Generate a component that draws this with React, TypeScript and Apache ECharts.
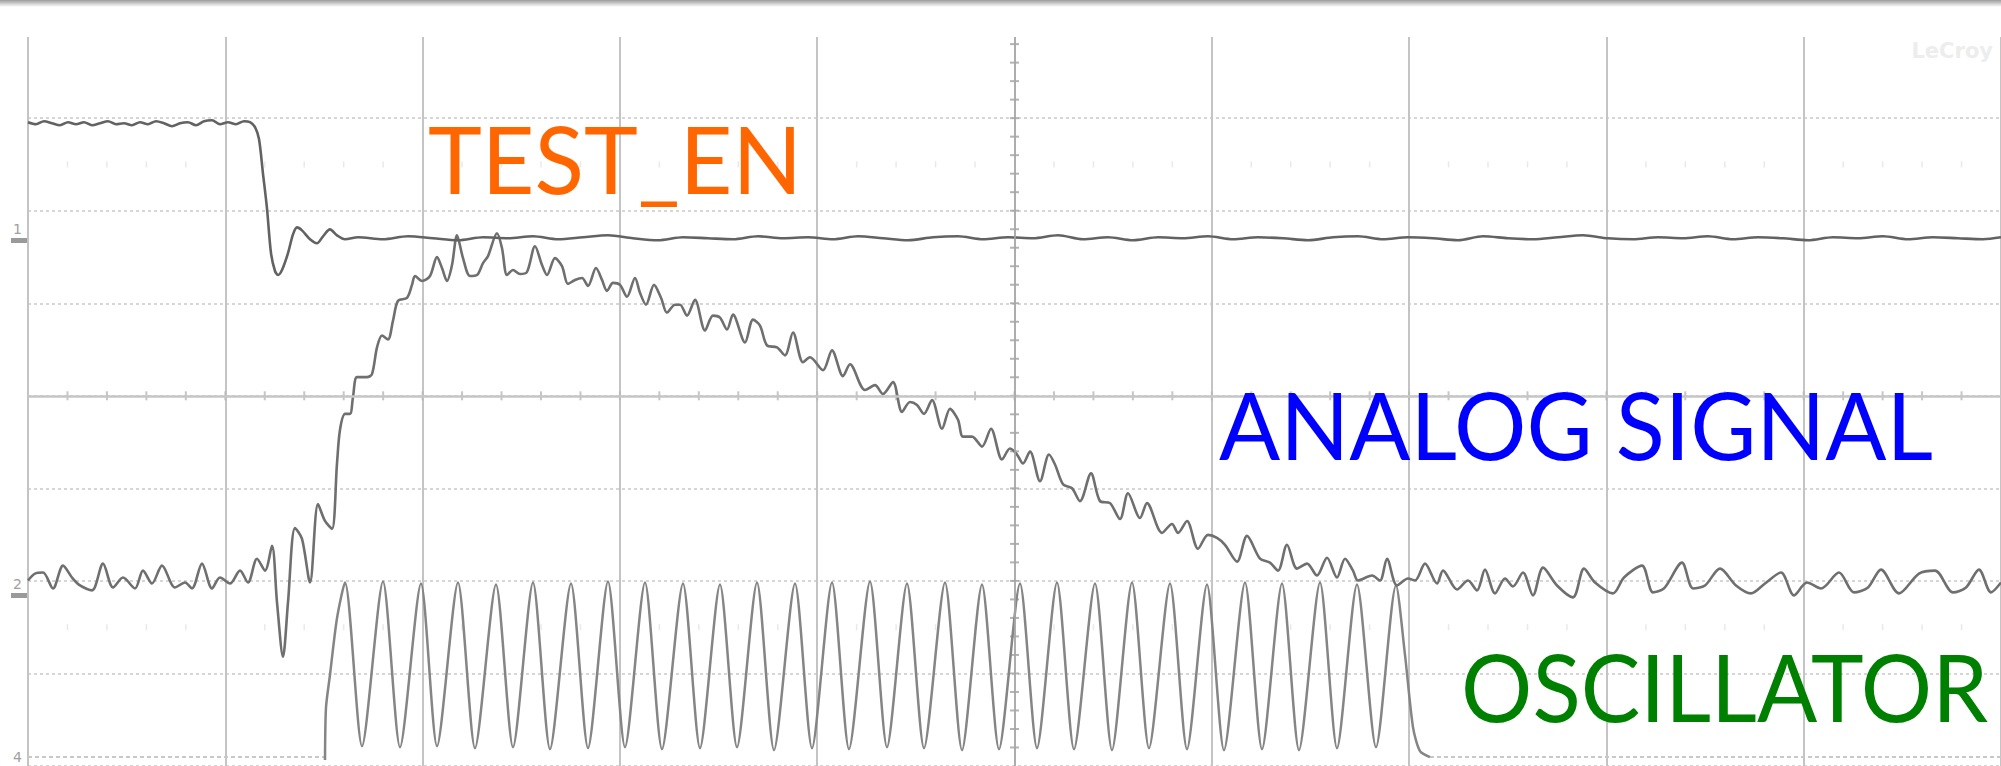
import React, { useEffect, useRef } from "react";
import * as echarts from "echarts";

// Oscilloscope screen: 10 horizontal divisions x 8 vertical divisions.
// x = sample index (197.3 samples / div), y = ADC counts (93.3 counts / div)
const X_DIVS = 10;
const SAMPLES_PER_DIV = 197.3;
const Y_DIVS = 8;
const COUNTS_PER_DIV = 93.3;

const TEST_EN: [number, number][] = [
  [0, 649], [8, 647], [16, 650], [24, 648], [32, 646], [40, 649], [48, 647], [56, 649], [64, 646], [72, 648],
  [80, 650], [88, 647], [96, 648], [104, 646], [112, 649], [120, 647], [128, 650], [136, 648], [144, 645], [152, 648],
  [160, 649], [168, 646], [176, 650], [184, 651], [192, 647], [200, 649], [208, 647], [216, 650], [222, 649], [227, 644],
  [231, 632], [235, 597], [239, 562], [243, 517], [247, 499], [250, 495], [254, 500], [260, 517], [265, 536], [269, 543],
  [274, 540], [282, 531], [289, 527], [295, 534], [302, 541], [309, 535], [317, 531],
  [330, 533], [355, 531], [380, 534], [405, 532], [430, 530], [455, 533], [480, 532], [505, 534], [530, 531], [555, 533],
  [580, 535], [605, 532], [630, 530], [655, 533], [680, 532], [705, 531], [730, 534], [755, 532], [780, 533], [805, 531],
  [830, 534], [855, 532], [880, 530], [905, 533], [930, 534], [955, 531], [980, 533], [1005, 532], [1030, 535], [1055, 531],
  [1080, 533], [1105, 530], [1130, 533], [1155, 532], [1180, 534], [1205, 531], [1230, 533], [1255, 532], [1280, 530], [1305, 533],
  [1330, 534], [1355, 531], [1380, 533], [1405, 532], [1430, 530], [1455, 534], [1480, 532], [1505, 531], [1530, 533], [1555, 535],
  [1580, 532], [1605, 531], [1630, 533], [1655, 532], [1680, 534], [1705, 531], [1730, 533], [1755, 532], [1780, 530], [1805, 533],
  [1830, 532], [1855, 534], [1880, 531], [1905, 533], [1930, 532], [1955, 531], [1973, 533],
];

const ANALOG: [number, number][] = [
  [0, 187], [7, 194], [15, 195], [25, 179], [35, 202], [44, 190], [52, 182], [64, 177], [75, 204], [85, 180],
  [95, 190], [107, 179], [115, 197], [124, 184], [134, 202], [147, 180], [157, 185], [164, 179], [174, 204], [184, 179],
  [192, 190], [202, 184], [212, 197], [220, 185], [229, 209], [237, 197], [244, 222], [249, 165], [255, 110], [260, 165],
  [267, 240], [274, 229], [282, 185], [290, 264], [297, 247], [304, 239], [309, 305], [312, 339], [317, 355], [322, 355],
  [325, 372], [329, 392], [339, 392], [344, 395], [349, 422], [354, 434], [360, 430], [365, 449], [370, 469], [379, 472],
  [384, 485], [387, 494], [394, 489], [402, 494], [409, 513], [414, 502], [419, 489], [424, 505], [429, 535], [435, 512],
  [442, 494], [449, 495], [455, 507], [460, 514], [469, 537], [474, 522], [479, 495], [485, 500], [492, 496], [499, 498],
  [507, 524], [514, 505], [519, 495], [527, 512], [534, 504], [540, 486], [547, 490], [554, 492], [560, 484], [568, 502],
  [574, 490], [579, 479], [585, 487], [592, 485], [599, 473], [607, 492], [612, 477], [618, 465], [626, 485], [633, 472],
  [639, 457], [647, 465], [652, 465], [659, 454], [667, 470], [677, 439], [685, 454], [692, 452], [699, 440], [705, 455],
  [717, 427], [725, 450], [732, 444], [739, 424], [749, 422], [757, 414], [765, 437], [775, 407], [782, 412], [795, 399],
  [804, 419], [815, 393], [822, 405], [837, 379], [847, 384], [855, 375], [865, 387], [874, 357], [882, 367], [889, 364],
  [896, 355], [904, 369], [914, 340], [922, 360], [930, 349], [935, 332], [944, 332], [954, 322], [963, 340], [974, 309],
  [982, 320], [989, 314], [995, 305], [1002, 317], [1012, 287], [1021, 314], [1027, 304], [1035, 284], [1044, 280], [1052, 267],
  [1063, 295], [1072, 267], [1082, 265], [1092, 249], [1100, 275], [1112, 250], [1119, 265], [1134, 235], [1144, 244], [1150, 235],
  [1159, 247], [1170, 219], [1180, 233], [1189, 230], [1197, 223], [1209, 206], [1219, 232], [1232, 209], [1242, 205], [1250, 197],
  [1259, 223], [1269, 199], [1279, 204], [1289, 192], [1299, 210], [1309, 190], [1317, 209], [1325, 197], [1330, 187], [1344, 192],
  [1352, 187], [1359, 209], [1369, 182], [1380, 189], [1387, 187], [1397, 204], [1409, 184], [1415, 197], [1429, 178], [1440, 187],
  [1449, 177], [1457, 198], [1467, 174], [1477, 189], [1485, 181], [1495, 195], [1505, 172], [1515, 200], [1529, 182], [1545, 170],
  [1556, 199], [1567, 185], [1585, 174], [1596, 190], [1614, 202], [1625, 175], [1636, 179], [1654, 205], [1665, 179], [1677, 182],
  [1692, 199], [1708, 182], [1723, 174], [1737, 184], [1753, 195], [1766, 172], [1779, 185], [1793, 179], [1811, 195], [1826, 175],
  [1840, 180], [1853, 198], [1871, 174], [1891, 194], [1907, 197], [1925, 175], [1938, 180], [1951, 198], [1963, 175], [1973, 185],
];

const OSC_START: [number, number][] = [[297, 6], [298, 59], [302, 92], [309, 149]];
const OSC_PEAK_X = [317, 355, 393, 430, 468, 505, 543, 580, 617, 655, 692, 729, 767, 804, 842, 879, 917, 954, 992, 1029, 1067, 1104, 1142, 1179, 1217, 1254, 1292, 1329, 1368];
const OSC_PEAK_Y = [185, 186, 184, 185, 183, 185, 184, 186, 185, 184, 183, 185, 184, 185, 186, 184, 185, 183, 184, 185, 184, 185, 184, 183, 185, 184, 185, 183, 182];
const OSC_TROUGH_X = [334, 372, 409, 447, 485, 522, 560, 597, 634, 672, 709, 746, 784, 821, 859, 896, 934, 971, 1009, 1046, 1084, 1121, 1159, 1196, 1234, 1271, 1309, 1348];
const OSC_TROUGH_Y = [20, 19, 20, 18, 19, 17, 18, 19, 17, 18, 19, 16, 18, 17, 19, 18, 16, 17, 18, 17, 16, 18, 17, 16, 17, 16, 18, 19];
const OSC_END: [number, number][] = [[1377, 112], [1385, 39], [1392, 15], [1402, 9]];
const OSC_OFF_LEFT: [number, number][] = [[0, 9], [297, 9]];
const OSC_OFF_RIGHT: [number, number][] = [[1402, 9], [1973, 9]];

const LABELS = [
  { text: "TEST_EN", x: 428, y: 158, width: 374, color: "#FF6600" },
  { text: "ANALOG SIGNAL", x: 1219, y: 424, width: 714, color: "#0000FF" },
  { text: "OSCILLATOR", x: 1461, y: 686, width: 527, color: "#008000" },
];
const LABEL_FONT_SIZE = 93;
const LABEL_FONT = "Lato";

function buildOsc(): [number, number][] {
  const out: [number, number][] = [...OSC_START];
  OSC_PEAK_X.forEach((px, i) => {
    out.push([px, OSC_PEAK_Y[i]]);
    if (i < OSC_TROUGH_X.length) out.push([OSC_TROUGH_X[i], OSC_TROUGH_Y[i]]);
  });
  return out.concat(OSC_END);
}

function tickRow(y: number, skipMajor: boolean): [number, number][] {
  const out: [number, number][] = [];
  for (let k = 1; k < X_DIVS * 5; k++) {
    if (skipMajor && k % 5 === 0) continue;
    out.push([(k * SAMPLES_PER_DIV) / 5, y]);
  }
  return out;
}
function tickCol(x: number): [number, number][] {
  const out: [number, number][] = [];
  for (let k = 1; k < Y_DIVS * 5; k++) out.push([x, (k * COUNTS_PER_DIV) / 5]);
  return out;
}

function measure(text: string): number {
  const c = document.createElement("canvas").getContext("2d");
  if (!c) return 0;
  c.font = `${LABEL_FONT_SIZE}px ${LABEL_FONT}`;
  return c.measureText(text).width;
}

export default function App() {
  const ref = useRef<HTMLDivElement>(null);
  useEffect(() => {
    document.body.style.margin = "0";
    const chart = echarts.init(ref.current!, undefined, { renderer: "svg" });
    const xMax = X_DIVS * SAMPLES_PER_DIV;
    const yMax = Y_DIVS * COUNTS_PER_DIV;
    const xc = xMax / 2;
    const yc = yMax / 2;
    const option: any = {
      animation: false,
      backgroundColor: "#ffffff",
      grid: { left: 28, top: 25.6, width: 1973, height: 746.4 },
      xAxis: {
        type: "value", min: 0, max: xMax, interval: SAMPLES_PER_DIV,
        axisLine: { show: false }, axisTick: { show: false }, axisLabel: { show: false },
        splitLine: { show: true, lineStyle: { color: "#c4c4c4", width: 2 } },
      },
      yAxis: {
        type: "value", min: 0, max: yMax, interval: COUNTS_PER_DIV,
        axisLine: { show: false }, axisTick: { show: false }, axisLabel: { show: false },
        splitLine: { show: true, lineStyle: { color: "#d6d6d6", width: 2, type: [3, 3] } },
      },
      series: [
        {
          type: "line", name: "axes", data: [], silent: true,
          markLine: {
            silent: true, symbol: "none", label: { show: false },
            data: [
              { yAxis: yc, lineStyle: { color: "#c6c6c6", width: 2.5, type: "solid" } },
              { xAxis: xc, lineStyle: { color: "#a8a8a8", width: 1.6, type: "solid" } },
            ],
          },
        },
        { type: "scatter", silent: true, symbol: "rect", symbolSize: [2, 9], itemStyle: { color: "#b8b8b8" }, data: tickRow(yc, false), z: 1 },
        { type: "scatter", silent: true, symbol: "rect", symbolSize: [9, 2], itemStyle: { color: "#a0a0a0" }, data: tickCol(xc), z: 1 },
        { type: "scatter", silent: true, symbol: "rect", symbolSize: [1.5, 6], itemStyle: { color: "#e4e4e4" }, data: tickRow(6.5 * COUNTS_PER_DIV, true), z: 1 },
        { type: "scatter", silent: true, symbol: "rect", symbolSize: [1.5, 6], itemStyle: { color: "#e4e4e4" }, data: tickRow(1.5 * COUNTS_PER_DIV, true), z: 1 },
        { type: "line", name: "OSC off", data: OSC_OFF_LEFT, showSymbol: false, lineStyle: { color: "#c8c8c8", width: 2, type: [4, 3] } },
        { type: "line", name: "OSC off2", data: OSC_OFF_RIGHT, showSymbol: false, lineStyle: { color: "#c8c8c8", width: 2, type: [4, 3] } },
        { type: "line", name: "OSCILLATOR", data: buildOsc(), showSymbol: false, smooth: 0.25, lineStyle: { color: "#858585", width: 2.5, join: "round" } },
        { type: "line", name: "ANALOG SIGNAL", data: ANALOG, showSymbol: false, smooth: 0.3, lineStyle: { color: "#6f6f6f", width: 2.6, join: "round" } },
        { type: "line", name: "TEST_EN", data: TEST_EN, showSymbol: false, smooth: 0.3, lineStyle: { color: "#626262", width: 2.6, join: "round" } },
      ],
      graphic: [
        { type: "rect", z: 100, shape: { x: 0, y: 0, width: 2001, height: 37 }, style: { fill: "#ffffff" } },
        {
          type: "rect", z: 101, shape: { x: 0, y: 0, width: 2001, height: 7 },
          style: { fill: new echarts.graphic.LinearGradient(0, 0, 0, 1, [{ offset: 0, color: "#9c9c9c" }, { offset: 1, color: "#ffffff" }]) },
        },
        { type: "text", z: 101, x: 1993, y: 40, style: { text: "LeCroy", fill: "#ededed", fontSize: 21, fontWeight: "bold", fontFamily: "DejaVu Sans", align: "right" } },
        { type: "rect", z: 101, shape: { x: 11, y: 238, width: 16, height: 5 }, style: { fill: "#9a9a9a" } },
        { type: "text", z: 101, x: 13, y: 222, style: { text: "1", fill: "#a0a0a0", fontSize: 14, fontFamily: "DejaVu Sans" } },
        { type: "rect", z: 101, shape: { x: 11, y: 593, width: 16, height: 5 }, style: { fill: "#9a9a9a" } },
        { type: "text", z: 101, x: 13, y: 577, style: { text: "2", fill: "#a0a0a0", fontSize: 14, fontFamily: "DejaVu Sans" } },
        { type: "text", z: 101, x: 13, y: 750, style: { text: "4", fill: "#a0a0a0", fontSize: 14, fontFamily: "DejaVu Sans" } },
        ...LABELS.map((l) => {
          const w = measure(l.text);
          const sx = w > 0 ? l.width / w : 1;
          return {
            type: "text", z: 110, x: l.x, y: l.y, scaleX: sx,
            style: { text: l.text, fill: l.color, fontSize: LABEL_FONT_SIZE, fontFamily: LABEL_FONT, align: "left", verticalAlign: "middle" },
          };
        }),
      ],
    };
    chart.setOption(option);
    return () => chart.dispose();
  }, []);
  return <div ref={ref} style={{ position: "absolute", left: 0, top: 0, width: 2001, height: 766, background: "#fff" }} />;
}
